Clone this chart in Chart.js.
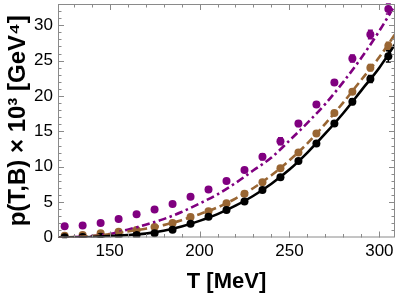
<!DOCTYPE html>
<html>
<head>
<meta charset="utf-8">
<script src="https://cdn.jsdelivr.net/npm/chart.js@4/dist/chart.umd.min.js"></script>
<style>
  html, body { margin: 0; padding: 0; background: #fff; }
  #wrap { width: 399px; height: 295px; }
</style>
</head>
<body>
<div id="wrap"><canvas id="c" width="399" height="295"></canvas></div>
<script>
// pressao p(T,B) x 10^3 -- pontos de rede + curvas ajustadas, tres campos B

// temperaturas dos pontos (MeV)
const temps = [125, 135, 145, 155, 165, 175, 185, 195, 205, 215, 225, 235, 245, 255, 265, 275, 285, 295, 305];

// pontos
const purplePts = [1.6, 1.7, 2.05, 2.6, 3.3, 3.95, 4.75, 5.75, 6.8, 8.0, 9.55, 11.4, 13.6, 16.1, 18.8, 21.9, 25.3, 28.7, 32.3];
const brownPts  = [0.25, 0.35, 0.6, 0.8, 1.05, 1.5, 2.06, 2.9, 3.7, 4.85, 6.2, 7.8, 9.8, 12.0, 14.7, 17.6, 20.6, 24.0, 27.1];
const blackPts  = [0.05, 0.08, 0.12, 0.2, 0.35, 0.6, 1.1, 1.95, 2.95, 3.9, 5.1, 6.7, 8.5, 10.8, 13.3, 16.1, 19.2, 22.4, 25.6];

// barras de erro (meia altura)
const purpleErr = [0.1, 0.1, 0.1, 0.1, 0.1, 0.1, 0.15, 0.15, 0.2, 0.2, 0.3, 0.4, 0.5, 0.4, 0.4, 0.4, 0.5, 0.6, 0.7];
const brownErr  = [0.05, 0.05, 0.05, 0.05, 0.1, 0.1, 0.1, 0.1, 0.15, 0.15, 0.2, 0.2, 0.25, 0.25, 0.3, 0.3, 0.35, 0.45, 0.5];
const blackErr  = [0.05, 0.05, 0.05, 0.05, 0.1, 0.1, 0.1, 0.1, 0.15, 0.15, 0.2, 0.2, 0.25, 0.25, 0.3, 0.35, 0.4, 0.5, 0.8];

// curvas (lidas a cada 10 MeV)
const curveT      = [120, 130, 140, 150, 160, 170, 180, 190, 200, 210, 220, 230, 240, 250, 260, 270, 280, 290, 300, 310];
const purpleCurve = [0.0, 0.05, 0.2, 0.5, 1.1, 1.8, 2.6, 3.6, 4.8, 6.1, 7.7, 9.5, 11.3, 13.7, 16.2, 18.9, 22.0, 25.4, 29.2, 33.4];
const brownCurve  = [0.0, 0.05, 0.2, 0.45, 0.85, 1.25, 1.75, 2.45, 3.3, 4.25, 5.5, 7.0, 8.8, 10.9, 13.3, 16.1, 19.1, 22.3, 25.5, 29.2];
const blackCurve  = [0.0, 0.02, 0.08, 0.2, 0.35, 0.55, 0.95, 1.55, 2.35, 3.3, 4.5, 5.9, 7.6, 9.6, 12.0, 14.7, 17.6, 20.8, 24.0, 27.8];

const xTicks = [150, 200, 250, 300];
const yTicks = [0, 5, 10, 15, 20, 25, 30];

const PURPLE = '#800080';
const BROWN = '#996633';
const BLACK = '#000000';
const FONT = "'Liberation Sans', Arial, sans-serif";

const pts = (xs, ys) => xs.map((x, i) => ({ x, y: ys[i] }));

// barras de erro desenhadas antes dos marcadores
const errorBars = {
  id: 'errorBars',
  beforeDatasetsDraw(chart) {
    const { ctx, scales: { x, y } } = chart;
    const sets = [[purplePts, purpleErr, PURPLE], [brownPts, brownErr, BROWN], [blackPts, blackErr, BLACK]];
    ctx.save();
    ctx.lineWidth = 1.5;
    for (const [vals, errs, color] of sets) {
      ctx.strokeStyle = color;
      temps.forEach((t, i) => {
        const px = x.getPixelForValue(t);
        const y1 = y.getPixelForValue(vals[i] - errs[i]);
        const y2 = y.getPixelForValue(vals[i] + errs[i]);
        ctx.beginPath();
        ctx.moveTo(px, y1); ctx.lineTo(px, y2);
        ctx.moveTo(px - 2.5, y1); ctx.lineTo(px + 2.5, y1);
        ctx.moveTo(px - 2.5, y2); ctx.lineTo(px + 2.5, y2);
        ctx.stroke();
      });
    }
    ctx.restore();
  },
};

// moldura estilo Mathematica, ticks pra dentro nos 4 lados
const frame = {
  id: 'frame',
  afterDraw(chart) {
    const { ctx, chartArea: a, scales: { x, y } } = chart;
    ctx.save();
    ctx.strokeStyle = '#8a8a8a';
    ctx.lineWidth = 1;
    ctx.strokeRect(a.left + 0.5, a.top + 0.5, a.right - a.left - 1, a.bottom - a.top - 1);
    ctx.beginPath();
    for (let t = 130; t <= 300; t += 10) {
      const px = Math.round(x.getPixelForValue(t)) + 0.5;
      const len = t % 50 === 0 ? 6 : 3.5;
      ctx.moveTo(px, a.bottom); ctx.lineTo(px, a.bottom - len);
      ctx.moveTo(px, a.top); ctx.lineTo(px, a.top + len);
    }
    for (let v = 1; v <= 33; v++) {
      const py = Math.round(y.getPixelForValue(v)) + 0.5;
      const len = v % 5 === 0 ? 6 : 3.5;
      ctx.moveTo(a.left, py); ctx.lineTo(a.left + len, py);
      ctx.moveTo(a.right, py); ctx.lineTo(a.right - len, py);
    }
    ctx.stroke();
    ctx.restore();
  },
};

const curve = (data, color, dash) => ({
  type: 'line',
  data: pts(curveT, data),
  borderColor: color,
  borderWidth: 2.6,
  borderDash: dash,
  pointRadius: 0,
  cubicInterpolationMode: 'monotone',
  clip: 0,
});

const dots = (data, color) => ({
  type: 'scatter',
  data: pts(temps, data),
  backgroundColor: color,
  borderColor: color,
  borderWidth: 0,
  pointRadius: 4,
  clip: 0,
});

new Chart(document.getElementById('c'), {
  data: {
    datasets: [
      curve(blackCurve, BLACK, []),
      curve(brownCurve, BROWN, [8, 4]),
      curve(purpleCurve, PURPLE, [8, 3.5, 2.5, 3.5]),
      dots(blackPts, BLACK),
      dots(brownPts, BROWN),
      dots(purplePts, PURPLE),
    ],
  },
  options: {
    responsive: false,
    animation: false,
    devicePixelRatio: 1,
    layout: { padding: { top: 1, right: 2, left: 0, bottom: 0 } },
    plugins: { legend: { display: false }, tooltip: { enabled: false } },
    scales: {
      x: {
        type: 'linear',
        min: 121.3,
        max: 308.7,
        afterBuildTicks: (s) => { s.ticks = xTicks.map((v) => ({ value: v })); },
        afterFit: (s) => { s.height = 57.5; s.paddingLeft = 0; s.paddingRight = 0; },
        ticks: { color: '#000', font: { size: 17, family: FONT }, padding: 4, maxRotation: 0, autoSkip: false },
        grid: { display: false, drawTicks: false },
        border: { display: false },
        title: { display: true, text: 'T [MeV]', color: '#000', font: { size: 22, weight: 'bold', family: FONT }, padding: 0 },
      },
      y: {
        type: 'linear',
        min: 0,
        max: 33,
        afterBuildTicks: (s) => { s.ticks = yTicks.map((v) => ({ value: v })); },
        afterFit: (s) => { s.width = 58; s.paddingTop = 0; s.paddingBottom = 0; },
        ticks: { color: '#000', font: { size: 17, family: FONT }, padding: 5 },
        grid: { display: false, drawTicks: false },
        border: { display: false },
        title: {
          display: true,
          text: 'p(T,B) × 10³ [GeV⁴]',
          color: '#000',
          font: { size: 24, weight: 'bold', family: FONT },
          padding: { top: 4, bottom: 0 },
        },
      },
    },
  },
  plugins: [errorBars, frame],
});
</script>
</body>
</html>
